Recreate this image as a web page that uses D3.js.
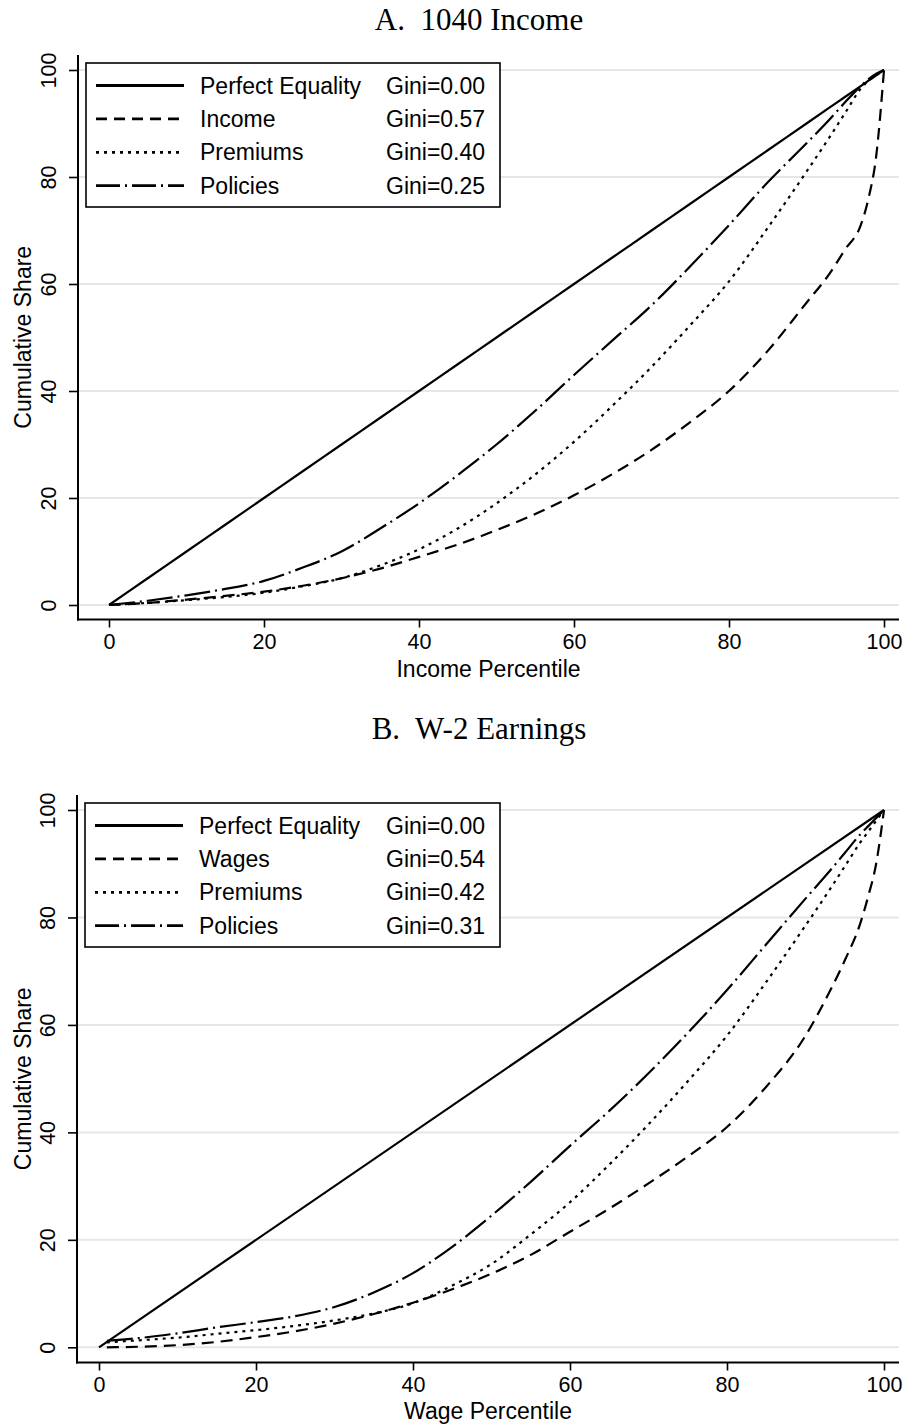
<!DOCTYPE html>
<html>
<head>
<meta charset="utf-8">
<script src="https://cdn.jsdelivr.net/npm/d3@7"></script>
<style>
  html, body { margin: 0; padding: 0; background: #fff; }
  svg { display: block; }
</style>
</head>
<body>
<svg id="chart" width="907" height="1426"></svg>
<script>
// ---------------- DATA ----------------
const xTicks = [0, 20, 40, 60, 80, 100];
const yTicks = [0, 20, 40, 60, 80, 100];

// Panel A: 1040 Income
const titleA = "A.  1040 Income";
const xTitleA = "Income Percentile";
const pctA = [0, 5, 10, 15, 20, 25, 30, 35, 40, 45, 50, 55, 60, 65, 70, 75, 80, 85, 90, 93, 95, 97, 98, 99, 100];
const equalityA = [0, 5, 10, 15, 20, 25, 30, 35, 40, 45, 50, 55, 60, 65, 70, 75, 80, 85, 90, 93, 95, 97, 98, 99, 100];
const incomeA   = [0, 0.4, 1.0, 1.7, 2.5, 3.6, 5.0, 6.8, 9.0, 11.3, 14.0, 17.0, 20.5, 24.5, 29.0, 34.2, 40.0, 47.5, 56.5, 62, 66.5, 71, 76, 84, 100];
const premiumsA = [0, 0.4, 0.9, 1.5, 2.3, 3.5, 5.0, 7.4, 10.4, 14.3, 19.0, 24.4, 30.5, 37.3, 44.5, 52.3, 60.5, 70.5, 81, 87.5, 92, 96.5, 98, 99, 100];
const policiesA = [0, 0.8, 1.8, 3.0, 4.5, 7.0, 10, 14.3, 19, 24.3, 30, 36.3, 43, 49.5, 56, 63.3, 71, 79, 86.3, 90.8, 94, 97, 98.3, 99.3, 100];
const legendNamesA = ["Perfect Equality", "Income", "Premiums", "Policies"];
const legendGiniA  = ["Gini=0.00", "Gini=0.57", "Gini=0.40", "Gini=0.25"];

// Panel B: W-2 Earnings
const titleB = "B.  W-2 Earnings";
const xTitleB = "Wage Percentile";
const equalityPctB = [0, 100];
const equalityB    = [0, 100];
const pctB = [1, 5, 10, 15, 20, 25, 30, 35, 40, 45, 50, 55, 60, 65, 70, 75, 80, 85, 90, 93, 95, 97, 98, 99, 100];
const wagesB    = [0, 0.1, 0.4, 1.0, 1.9, 3.0, 4.4, 6.2, 8.3, 10.8, 13.7, 17.2, 21.5, 25.8, 30.5, 35.5, 41, 48.5, 58, 66, 72, 79, 84, 90, 100];
const premiumsB = [0.9, 1.3, 1.8, 2.5, 3.2, 4.0, 5.0, 6.3, 8.2, 11.5, 15.5, 21, 27, 34, 41.5, 49.5, 58, 68, 78.5, 85, 89.5, 94, 96, 98, 100];
const policiesB = [1.2, 1.7, 2.6, 3.7, 4.7, 5.8, 7.5, 10.2, 13.8, 18.7, 24.5, 30.8, 37.5, 44, 51, 58.5, 66.5, 75, 83.5, 88.5, 92, 95.5, 97, 98.5, 100];
const legendNamesB = ["Perfect Equality", "Wages", "Premiums", "Policies"];
const legendGiniB  = ["Gini=0.00", "Gini=0.54", "Gini=0.42", "Gini=0.31"];

// ---------------- STYLE ----------------
const dashStyles = [null, "12,7", "3,5", "26,5,2,5"];
const legendDashStyles = [null, "11,7", "3,5", "24,5,2,5"];
const sansFont = "'Liberation Sans', Arial, Helvetica, sans-serif";
const serifFont = "'Liberation Serif', 'Times New Roman', Times, serif";

const svg = d3.select("#chart");

function drawPanel(cfg) {
  const g = svg.append("g");
  const x = d3.scaleLinear().domain([0, 100]).range([cfg.x0, cfg.x100]);
  const y = d3.scaleLinear().domain([0, 100]).range([cfg.y0, cfg.y100]);

  // title
  g.append("text")
    .attr("x", cfg.titleX).attr("y", cfg.titleY)
    .attr("text-anchor", "middle")
    .style("font-family", serifFont).style("font-size", "31px")
    .style("white-space", "pre")
    .text(cfg.title);

  // gridlines
  g.append("g").selectAll("line").data(yTicks).join("line")
    .attr("x1", cfg.left + 1).attr("x2", cfg.right)
    .attr("y1", d => y(d)).attr("y2", d => y(d))
    .attr("stroke", "#e6e6e6").attr("stroke-width", 2);

  // y axis
  const yAxis = d3.axisLeft(y).tickValues(yTicks).tickSize(9).tickPadding(0);
  const ya = g.append("g").attr("transform", `translate(${cfg.left},0)`).call(yAxis);
  ya.select(".domain").remove();
  ya.selectAll(".tick line").attr("stroke", "#000").attr("stroke-width", 1.6);
  ya.selectAll(".tick text")
    .attr("x", null).attr("dy", null)
    .attr("transform", "translate(-22,0) rotate(-90)")
    .attr("text-anchor", "middle").attr("y", 0)
    .attr("fill", "#000")
    .style("font-family", sansFont).style("font-size", "21.5px");
  g.append("line")
    .attr("x1", cfg.left).attr("x2", cfg.left)
    .attr("y1", cfg.top).attr("y2", cfg.bottom + 1)
    .attr("stroke", "#000").attr("stroke-width", 2);

  // x axis
  const xAxis = d3.axisBottom(x).tickValues(xTicks).tickSize(8).tickPadding(6);
  const xa = g.append("g").attr("transform", `translate(0,${cfg.bottom})`).call(xAxis);
  xa.select(".domain").remove();
  xa.selectAll(".tick line").attr("stroke", "#000").attr("stroke-width", 1.6);
  xa.selectAll(".tick text")
    .attr("fill", "#000")
    .style("font-family", sansFont).style("font-size", "21.5px");
  g.append("line")
    .attr("x1", cfg.left - 1).attr("x2", cfg.right)
    .attr("y1", cfg.bottom).attr("y2", cfg.bottom)
    .attr("stroke", "#000").attr("stroke-width", 2);

  // axis titles
  g.append("text")
    .attr("x", (cfg.left + cfg.right) / 2).attr("y", cfg.xTitleY)
    .attr("text-anchor", "middle")
    .style("font-family", sansFont).style("font-size", "23px")
    .text(cfg.xTitle);
  g.append("text")
    .attr("transform", `translate(31,${(cfg.top + cfg.bottom) / 2}) rotate(-90)`)
    .attr("text-anchor", "middle")
    .style("font-family", sansFont).style("font-size", "23px")
    .text("Cumulative Share");

  // series
  const line = d3.line().x(d => x(d[0])).y(d => y(d[1])).curve(d3.curveMonotoneX);
  cfg.series.forEach((s, i) => {
    const pts = s.pct.map((p, k) => [p, s.vals[k]]);
    g.append("path")
      .attr("d", line(pts))
      .attr("fill", "none").attr("stroke", "#000")
      .attr("stroke-width", 2.2)
      .attr("stroke-dasharray", dashStyles[i])
      .attr("stroke-linejoin", "round");
  });

  // legend
  const lg = g.append("g");
  lg.append("rect")
    .attr("x", cfg.legX).attr("y", cfg.legY)
    .attr("width", cfg.legW).attr("height", cfg.legH)
    .attr("fill", "#fff").attr("stroke", "#000").attr("stroke-width", 1.6);
  cfg.legendNames.forEach((name, i) => {
    const cy = cfg.legY + 22.5 + i * 33.4;
    lg.append("line")
      .attr("x1", cfg.legX + 10).attr("x2", cfg.legX + 98)
      .attr("y1", cy).attr("y2", cy)
      .attr("stroke", "#000").attr("stroke-width", 2.8)
      .attr("stroke-dasharray", legendDashStyles[i]);
    lg.append("text")
      .attr("x", cfg.legX + 114).attr("y", cy + 8)
      .style("font-family", sansFont).style("font-size", "23px")
      .text(name);
    lg.append("text")
      .attr("x", 386).attr("y", cy + 8)
      .style("font-family", sansFont).style("font-size", "23px")
      .text(cfg.legendGini[i]);
  });
}

drawPanel({
  title: titleA, titleX: 479, titleY: 30,
  xTitle: xTitleA, xTitleY: 677,
  x0: 109, x100: 884, y0: 605, y100: 70,
  left: 78, right: 899, top: 55, bottom: 619.5,
  legX: 86, legY: 63, legW: 414, legH: 144,
  legendNames: legendNamesA, legendGini: legendGiniA,
  series: [
    { pct: pctA, vals: equalityA },
    { pct: pctA, vals: incomeA },
    { pct: pctA, vals: premiumsA },
    { pct: pctA, vals: policiesA }
  ]
});

drawPanel({
  title: titleB, titleX: 479, titleY: 739,
  xTitle: xTitleB, xTitleY: 1419,
  x0: 99, x100: 884, y0: 1347.3, y100: 810,
  left: 77, right: 899, top: 795, bottom: 1362.5,
  legX: 85, legY: 803, legW: 415, legH: 144,
  legendNames: legendNamesB, legendGini: legendGiniB,
  series: [
    { pct: equalityPctB, vals: equalityB },
    { pct: pctB, vals: wagesB },
    { pct: pctB, vals: premiumsB },
    { pct: pctB, vals: policiesB }
  ]
});
</script>
</body>
</html>
